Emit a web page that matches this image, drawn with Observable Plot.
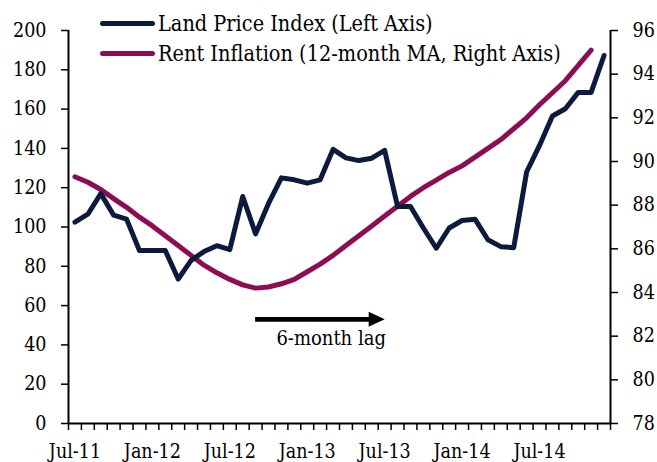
<!DOCTYPE html>
<html>
<head>
<meta charset="utf-8">
<script src="https://cdn.jsdelivr.net/npm/d3@7"></script>
<script src="https://cdn.jsdelivr.net/npm/@observablehq/plot@0.6"></script>
<style>
  body { margin: 0; background: #fff; }
  #wrap { position: relative; width: 657px; height: 462px; font-family: "DejaVu Serif Condensed", "DejaVu Serif", serif; color: #000; }
  #legend { position: absolute; left: 100px; top: 9px; font-size: 21.5px; }
  #legend .row { height: 30px; line-height: 30px; white-space: nowrap; }
  #legend .sw { display: inline-block; width: 55px; height: 5px; border-radius: 3px; vertical-align: middle; margin-right: 3px; position: relative; top: -2px; }
</style>
</head>
<body>
<div id="wrap"></div>
<script>
// ---- data ----
const months = [
  "Jul-11","Aug-11","Sep-11","Oct-11","Nov-11","Dec-11",
  "Jan-12","Feb-12","Mar-12","Apr-12","May-12","Jun-12",
  "Jul-12","Aug-12","Sep-12","Oct-12","Nov-12","Dec-12",
  "Jan-13","Feb-13","Mar-13","Apr-13","May-13","Jun-13",
  "Jul-13","Aug-13","Sep-13","Oct-13","Nov-13","Dec-13",
  "Jan-14","Feb-14","Mar-14","Apr-14","May-14","Jun-14",
  "Jul-14","Aug-14","Sep-14","Oct-14","Nov-14","Dec-14"
];
const landPrice = [
  102.5, 106.5, 117, 106, 104, 88,
  88, 88, 73.5, 83, 87.5, 90.5,
  88.5, 115.5, 96.5, 112, 125, 124,
  122.3, 124, 139.5, 135.2, 133.8, 135,
  139, 110.4, 110.4, 99.5, 89.2, 99.5,
  103.3, 104, 93.5, 90, 89.5, 128,
  141.5, 156.5, 160.2, 168.5, 168.5, 187.3
];
const rentInflation = [
  89.3, 89.05, 88.72, 88.3, 87.9, 87.45,
  87.05, 86.6, 86.15, 85.7, 85.25, 84.9,
  84.6, 84.35, 84.2, 84.25, 84.4, 84.6,
  84.95, 85.3, 85.7, 86.15, 86.6, 87.05,
  87.5, 87.95, 88.4, 88.8, 89.15, 89.5,
  89.8, 90.2, 90.6, 91.0, 91.5, 92.0,
  92.6, 93.15, 93.7, 94.4, 95.1
];
const tickLabels = ["Jul-11","Jan-12","Jul-12","Jan-13","Jul-13","Jan-14","Jul-14"];
const leftTicks = [0, 20, 40, 60, 80, 100, 120, 140, 160, 180, 200];
const rightTicks = [78, 80, 82, 84, 86, 88, 90, 92, 94, 96];
const seriesNames = ["Land Price Index (Left Axis)", "Rent Inflation (12-month MA, Right Axis)"];
const seriesColors = ["#0c1a3d", "#8c0d52"];
const lagArrow = [{from: "Sep-12", to: "Jul-13", value: 53}];
const lagLabel = [{text: "6-month lag", month: "Feb-13", value: 43}];

// ---- helpers ----
const leftDomain = [0, 200];
const rightDomain = [78, 96];
const toLeft = v => (v - rightDomain[0]) * (leftDomain[1] - leftDomain[0]) / (rightDomain[1] - rightDomain[0]) + leftDomain[0];
const toRight = v => (v - leftDomain[0]) * (rightDomain[1] - rightDomain[0]) / (leftDomain[1] - leftDomain[0]) + rightDomain[0];
const idx = m => months.indexOf(m);

const landRows = landPrice.map((v, i) => ({i, v}));
const rentRows = rentInflation.map((v, i) => ({i, v: toLeft(v)}));

const headSymbol = {
  draw(ctx) {
    ctx.moveTo(0, 0);
    ctx.lineTo(-16, -7.5);
    ctx.lineTo(-16, 7.5);
    ctx.closePath();
  }
};

const font = '"DejaVu Serif Condensed", "DejaVu Serif", serif';

const chart = Plot.plot({
  width: 657,
  height: 462,
  marginLeft: 68,
  marginRight: 47,
  marginTop: 30,
  marginBottom: 39,
  style: {fontFamily: font, fontSize: "19.5px", color: "#000", background: "#fff", overflow: "visible"},
  x: {domain: [-0.5, months.length - 0.5], axis: null, label: null},
  y: {domain: leftDomain, axis: null, label: null},
  marks: [
    Plot.axisY({ticks: leftTicks, anchor: "left", label: null, tickSize: 7, tickPadding: 15, strokeWidth: 1.5, fontSize: 19.5, tickFormat: d => String(d)}),
    Plot.axisY({ticks: rightTicks.map(toLeft), anchor: "right", label: null, tickSize: 7, tickPadding: 15, strokeWidth: 1.5, fontSize: 19.5, tickFormat: d => String(Math.round(toRight(d)))}),
    Plot.axisX({ticks: d3.range(months.length + 1).map(i => i - 0.5), anchor: "bottom", label: null, tickSize: 7, strokeWidth: 1.5, tickFormat: () => ""}),
    Plot.axisX({ticks: tickLabels.map(idx), anchor: "bottom", label: null, tickSize: 0, tickPadding: 21, fontSize: 19.5, tickFormat: i => months[i]}),
    Plot.ruleX([-0.5, months.length - 0.5], {y1: leftDomain[0], y2: leftDomain[1], stroke: "#000", strokeWidth: 2}),
    Plot.ruleY([leftDomain[0]], {x1: -0.5, x2: months.length - 0.5, stroke: "#000", strokeWidth: 2}),
    Plot.line(rentRows, {x: "i", y: "v", stroke: seriesColors[1], strokeWidth: 5, strokeLinejoin: "round", strokeLinecap: "round"}),
    Plot.line(landRows, {x: "i", y: "v", stroke: seriesColors[0], strokeWidth: 5, strokeLinejoin: "round", strokeLinecap: "round"}),
    Plot.ruleY(lagArrow, {y: "value", x1: d => idx(d.from), x2: d => idx(d.to), insetRight: 12, stroke: "#000", strokeWidth: 4.8}),
    Plot.dot(lagArrow, {x: d => idx(d.to), y: "value", symbol: headSymbol, fill: "#000", stroke: "none"}),
    Plot.text(lagLabel, {x: d => idx(d.month), y: "value", text: "text", dx: 11, fontSize: 20, fill: "#000", fontFamily: font})
  ]
});

const wrap = document.getElementById("wrap");
wrap.appendChild(chart);

const legend = document.createElement("div");
legend.id = "legend";
seriesNames.forEach((name, k) => {
  const row = document.createElement("div");
  row.className = "row";
  const sw = document.createElement("span");
  sw.className = "sw";
  sw.style.background = seriesColors[k];
  row.appendChild(sw);
  row.appendChild(document.createTextNode(name));
  legend.appendChild(row);
});
wrap.appendChild(legend);
</script>
</body>
</html>
